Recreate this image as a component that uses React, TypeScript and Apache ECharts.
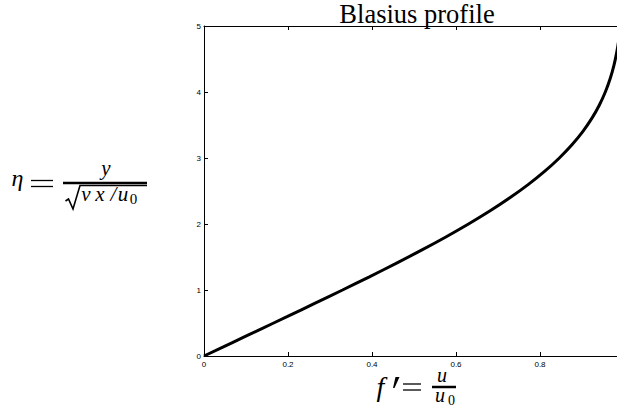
import React, { useEffect, useRef } from "react";
import * as echarts from "echarts";

// Blasius similarity profile: eta and f'(eta)
const eta = [0, 0.2, 0.4, 0.6, 0.8, 1.0, 1.2, 1.4, 1.6, 1.8, 2.0, 2.2, 2.4, 2.6, 2.8, 3.0, 3.2, 3.4, 3.6, 3.8, 4.0, 4.2, 4.4, 4.6, 4.8, 5.0];
const fPrime = [0, 0.06641, 0.13277, 0.19894, 0.26471, 0.32979, 0.39378, 0.45627, 0.51676, 0.57477, 0.62977, 0.68132, 0.72899, 0.77246, 0.81152, 0.84605, 0.87609, 0.90177, 0.92333, 0.94112, 0.95552, 0.96696, 0.97587, 0.98269, 0.98779, 0.99155];
const xTickLabels = ["0", "0.2", "0.4", "0.6", "0.8"];
const yTickLabels = ["0", "1", "2", "3", "4", "5"];
const titleText = "Blasius profile";

export default function App() {
  const ref = useRef<HTMLDivElement>(null);
  useEffect(() => {
    document.body.style.margin = "0";
    const chart = echarts.init(ref.current!, null, { renderer: "svg" });
    const serif = "'Liberation Serif', 'DejaVu Serif', serif";
    const sans = "'Liberation Sans', Arial, sans-serif";
    const axisLine = { show: true, onZero: false, lineStyle: { color: "#000", width: 1 } };
    const tick = { show: true, inside: true, length: 4, lineStyle: { color: "#000", width: 1 } };
    // text helper: x = centre, b = baseline (middle alignment shifted by ~0.34em)
    const t = (text: string, x: number, b: number, size: number, italic: boolean) => ({
      type: "text", x, y: b - 0.34 * size,
      style: {
        text, font: `${italic ? "italic " : ""}${size}px ${serif}`, fill: "#000",
        align: "center", verticalAlign: "middle",
      },
    });
    const ln = (x1: number, y1: number, x2: number, y2: number, w: number) => ({
      type: "line", shape: { x1, y1, x2, y2 }, style: { stroke: "#000", lineWidth: w },
    });
    chart.setOption({
      animation: false,
      backgroundColor: "#fff",
      grid: { left: 204, right: -7, top: 26, bottom: 56, containLabel: false, outerBoundsMode: "none" },
      xAxis: [
        {
          type: "value", min: 0, max: 1, interval: 0.2, position: "bottom",
          axisLine, axisTick: tick, splitLine: { show: false },
          axisLabel: {
            fontFamily: sans, fontSize: 8, color: "#000", margin: 4,
            formatter: (v: number) => { const i = Math.round(v / 0.2); return i < xTickLabels.length ? xTickLabels[i] : ""; },
          },
        },
        {
          type: "value", min: 0, max: 1, interval: 0.2, position: "top",
          axisLine, axisTick: tick, splitLine: { show: false }, axisLabel: { show: false },
        },
      ],
      yAxis: {
        type: "value", min: 0, max: 5, interval: 1,
        axisLine, axisTick: tick, splitLine: { show: false },
        axisLabel: {
          fontFamily: sans, fontSize: 8, color: "#000", margin: 3,
          formatter: (v: number) => yTickLabels[Math.round(v)] ?? "",
        },
      },
      series: [
        {
          type: "line",
          xAxisIndex: 0,
          data: eta.map((e, i) => [fPrime[i], e]),
          symbol: "none",
          showSymbol: false,
          smooth: 0.4,
          lineStyle: { color: "#000", width: 3 },
        },
      ],
      graphic: [
        t(titleText, 417, 23, 26.5, false),
        // x label: f' = u / u0
        t("f", 380.5, 396, 28, true),
        { type: "polygon", shape: { points: [[395.5, 377], [399.5, 377], [394.5, 388], [393, 388]] }, style: { fill: "#000" } },
        ln(403, 384, 421, 384, 1.3),
        ln(403, 390, 421, 390, 1.3),
        t("u", 442, 381.5, 20, true),
        ln(432, 387, 456, 387, 2.5),
        t("u", 440, 402, 20, true),
        t("0", 451.5, 405, 14, false),
        // y label: eta = y / sqrt(nu x / u0)
        t("\u03b7", 17.5, 186, 24, true),
        ln(31, 180.5, 53, 180.5, 1.3),
        ln(31, 186.5, 53, 186.5, 1.3),
        t("y", 106, 175, 21, true),
        ln(63, 183, 147, 183, 2.5),
        { type: "polyline", shape: { points: [[65.5, 201], [68.5, 199], [73, 209], [80, 185.5], [147, 185.5]] }, style: { stroke: "#000", fill: null, lineWidth: 1.6 } },
        t("\u03bd", 86, 201, 21, true),
        t("x", 100, 201, 21, true),
        t("/", 113.5, 201, 21, true),
        t("u", 123, 201, 21, true),
        t("0", 133.5, 204, 15, false),
      ],
    });
    return () => chart.dispose();
  }, []);
  return <div ref={ref} style={{ position: "absolute", left: 0, top: 0, width: 617, height: 412 }} />;
}
